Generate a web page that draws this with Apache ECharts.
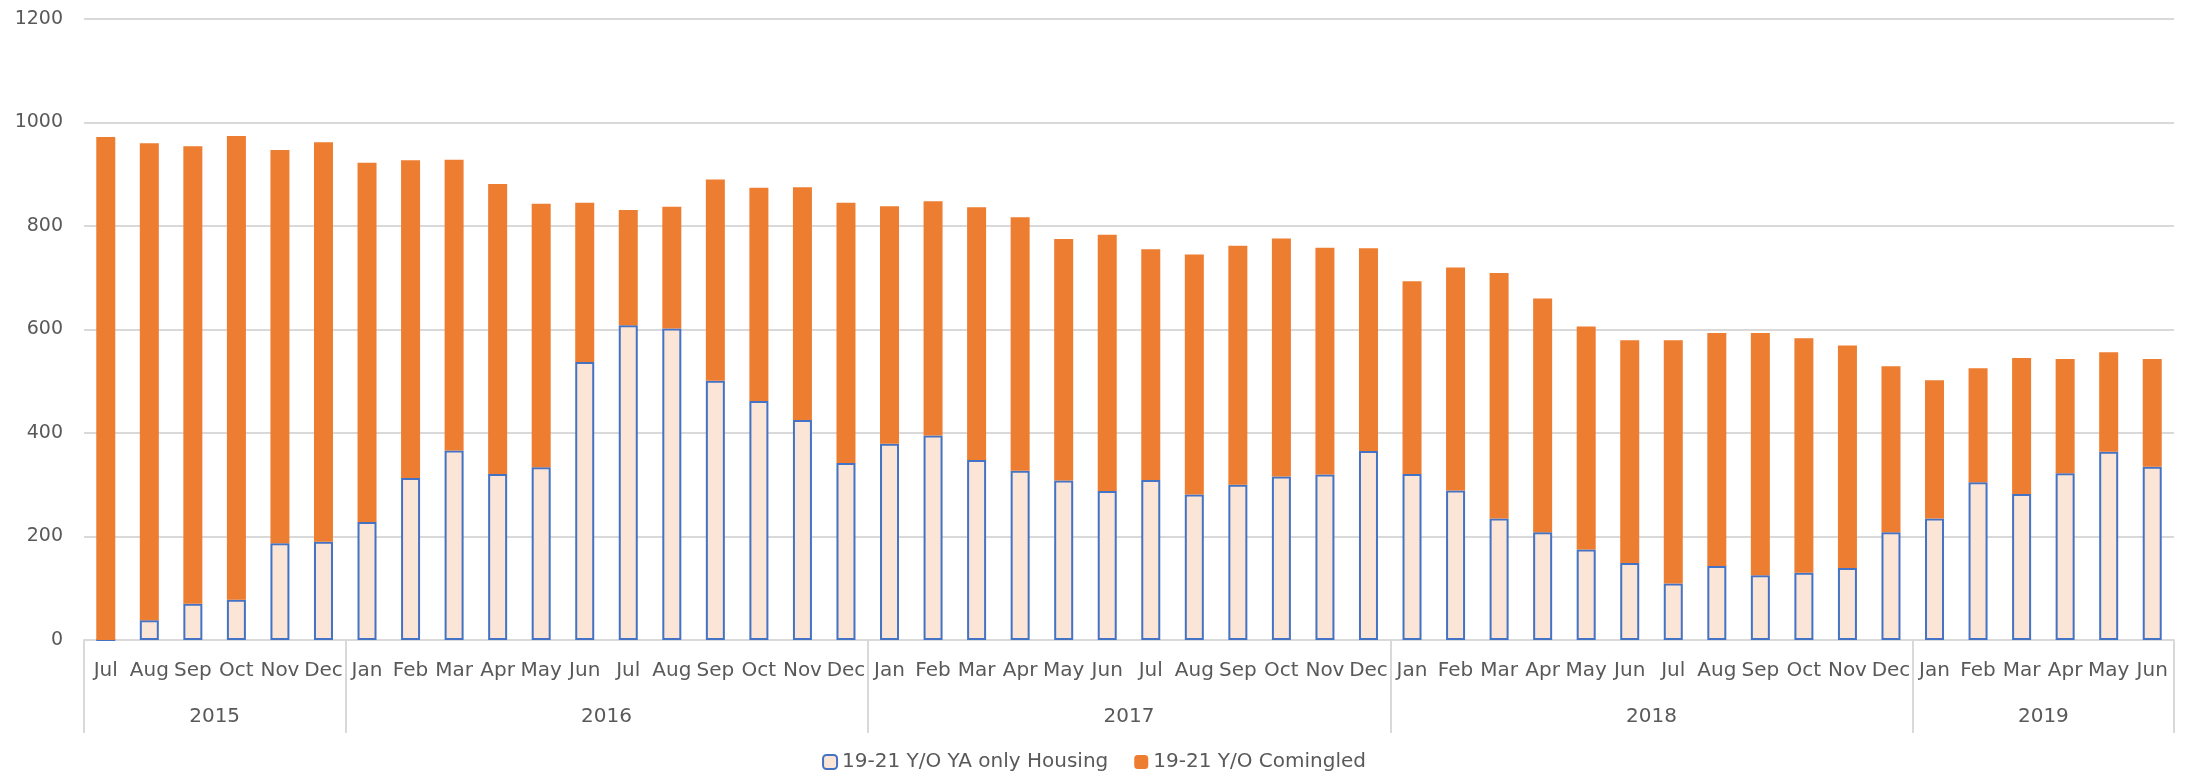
<!DOCTYPE html>
<html>
<head>
<meta charset="utf-8">
<script src="https://cdn.jsdelivr.net/npm/echarts@6/dist/echarts.min.js"></script>
<style>html,body{margin:0;padding:0;background:#fff}#c{width:2188px;height:782px}</style>
</head>
<body>
<div id="c"></div>
<script>
const months = ['Jul','Aug','Sep','Oct','Nov','Dec',
  'Jan','Feb','Mar','Apr','May','Jun','Jul','Aug','Sep','Oct','Nov','Dec',
  'Jan','Feb','Mar','Apr','May','Jun','Jul','Aug','Sep','Oct','Nov','Dec',
  'Jan','Feb','Mar','Apr','May','Jun','Jul','Aug','Sep','Oct','Nov','Dec',
  'Jan','Feb','Mar','Apr','May','Jun'];
const years = ['2015','2016','2017','2018','2019'];
const yearStarts = [0, 6, 18, 30, 42, 48];
const yTicks = [0, 200, 400, 600, 800, 1000, 1200];
const housing = [0,38,70,78,187,190,228,313,366,321,334,537,608,602,501,462,425,342,379,395,348,327,308,288,309,281,300,316,320,365,321,289,235,208,175,149,109,143,125,130,139,208,235,305,282,322,364,335];
const comingled = [972,922,884,896,760,772,694,614,562,560,509,308,223,235,389,412,450,503,459,453,488,490,467,495,446,464,462,460,438,392,372,431,474,452,431,430,470,450,468,453,430,321,267,220,263,221,192,208];

const yearCenters = years.map((y, i) => (yearStarts[i] + yearStarts[i + 1]) / 2);
const font = 'DejaVu Sans';
const txt = '#595959';
const chart = echarts.init(document.getElementById('c'));
chart.setOption({
  animation: false,
  textStyle: { fontFamily: font },
  grid: { left: 84, right: 14, top: 19, bottom: 142 },
  legend: {
    bottom: 5, left: 'center', itemGap: 26, itemWidth: 14, itemHeight: 14,
    textStyle: { fontSize: 20, color: txt, fontFamily: font },
    data: ['19-21 Y/O YA only Housing', '19-21 Y/O Comingled']
  },
  xAxis: [
    {
      type: 'category', data: months, position: 'bottom',
      axisLine: { show: true, lineStyle: { color: '#d9d9d9', width: 2 } },
      axisTick: { show: false },
      axisLabel: { interval: 0, fontSize: 20, color: txt, margin: 21, fontFamily: font }
    },
    {
      type: 'value', min: 0, max: 48, position: 'bottom',
      axisLine: { show: false },
      splitLine: { show: false },
      axisTick: { show: true, customValues: yearStarts, length: 93, lineStyle: { color: '#d9d9d9', width: 2 } },
      axisLabel: {
        show: true, customValues: yearCenters, fontSize: 20, color: txt, margin: 67, fontFamily: font,
        formatter: v => years[yearCenters.indexOf(v)] || ''
      }
    }
  ],
  yAxis: {
    type: 'value', min: 0, max: 1200, interval: 200,
    axisLine: { show: false }, axisTick: { show: false },
    splitLine: { lineStyle: { color: '#d9d9d9', width: 2 } },
    axisLabel: { fontSize: 19, color: txt, margin: 21, fontFamily: font,
      customValues: yTicks, formatter: v => String(v) }
  },
  series: [
    {
      name: '19-21 Y/O YA only Housing', type: 'bar', stack: 't', data: housing,
      barWidth: 19, xAxisIndex: 0,
      itemStyle: { color: '#FBE5D6', borderColor: '#4472C4', borderWidth: 2 }
    },
    {
      name: '19-21 Y/O Comingled', type: 'bar', stack: 't', data: comingled,
      barWidth: 19, xAxisIndex: 0,
      itemStyle: { color: '#ED7D31' }
    }
  ]
});
</script>
</body>
</html>
